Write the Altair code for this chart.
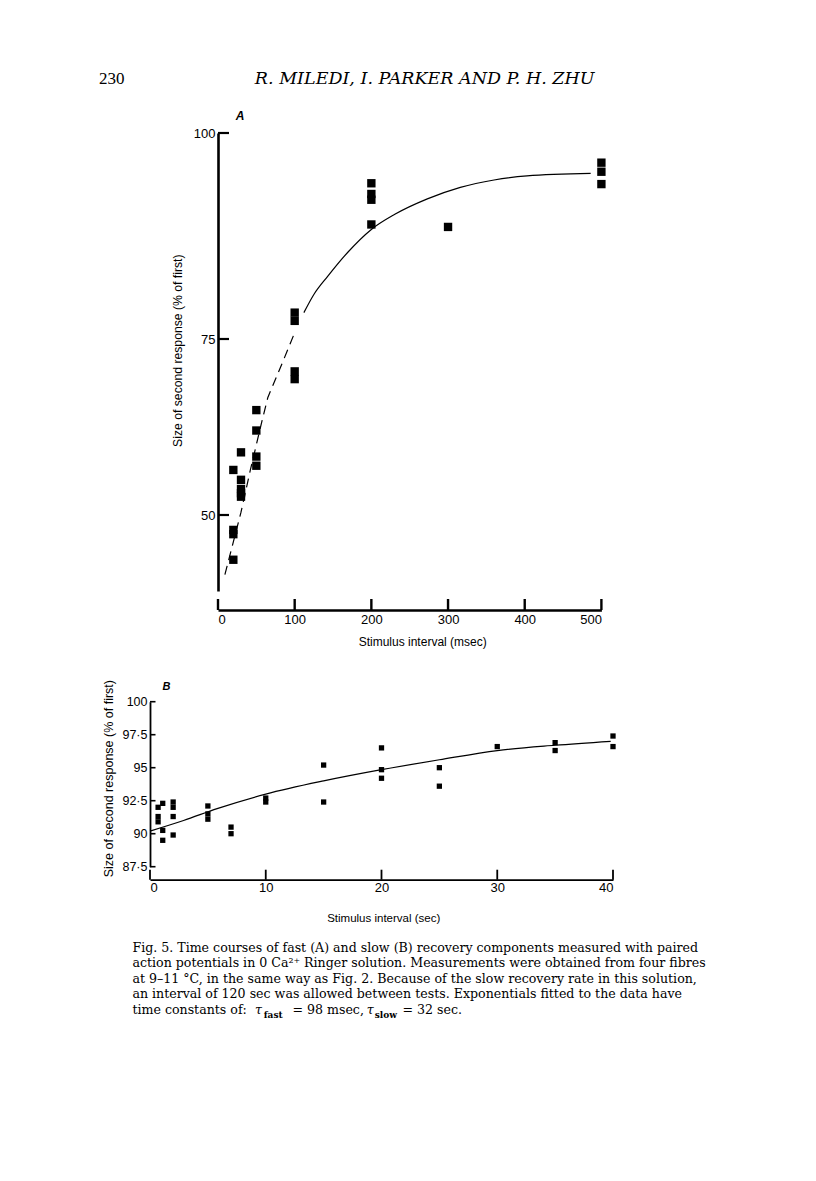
import altair as alt
import pandas as pd

# ---------------- Panel A (fast component) ----------------
a_interval = [20, 20, 20, 20, 30, 30, 30, 30, 30, 50, 50, 50, 50,
              100, 100, 100, 100, 200, 200, 200, 200, 300, 500, 500, 500]
a_size = [56.4, 47.9, 47.3, 43.7, 58.9, 55.0, 53.7, 53.1, 52.6, 64.9, 62.0, 58.3, 57.0,
          78.2, 77.2, 70.4, 69.3, 93.9, 92.6, 91.9, 88.9, 88.6, 96.4, 95.3, 93.8]
a_fit_dash_t = [9, 30, 42, 57, 65, 85, 101]
a_fit_dash_v = [41.6, 50.4, 56.3, 63.2, 66.7, 71.9, 76.0]
a_fit_t = [112, 125, 143, 169, 200, 230, 273, 316, 360, 403, 486]
a_fit_v = [78.2, 80.4, 82.6, 85.5, 88.3, 90.1, 92.0, 93.4, 94.3, 94.8, 95.1]
a_xticks = [0, 100, 200, 300, 400, 500]
a_yticks = [50, 75, 100]

# ---------------- Panel B (slow component) ----------------
b_interval = [0.7, 0.7, 0.7, 1.1, 1.1, 1.1, 2, 2, 2, 2, 5, 5, 5, 7, 7, 10, 10,
              15, 15, 20, 20, 20, 25, 25, 30, 35, 35, 40, 40]
b_size = [92.0, 91.3, 90.9, 92.3, 90.25, 89.5, 92.4, 92.0, 91.3, 89.9, 92.1, 91.5, 91.1,
          90.5, 90.0, 92.7, 92.4, 95.2, 92.4, 96.5, 94.85, 94.2, 95.0, 93.6, 96.6,
          96.9, 96.3, 97.4, 96.6]
b_fit_t = [0, 2.9, 5.8, 10, 15, 20, 25, 30, 35, 39.8]
b_fit_v = [90.2, 91.0, 91.9, 93.0, 94.0, 94.85, 95.6, 96.3, 96.7, 97.0]
b_xticks = [0, 10, 20, 30, 40]
b_yticks = [87.5, 90, 92.5, 95, 97.5, 100]

caption_lines = [
    "Fig. 5. Time courses of fast (A) and slow (B) recovery components measured with paired",
    "action potentials in 0 Ca\u00b2\u207a Ringer solution. Measurements were obtained from four fibres",
    "at 9\u201311 \u00b0C, in the same way as Fig. 2. Because of the slow recovery rate in this solution,",
    "an interval of 120 sec was allowed between tests. Exponentials fitted to the data have",
]

SANS = "Liberation Sans"
SERIF = "DejaVu Serif"
CAP = 12.6
dummy = pd.DataFrame({"d": [0]})


def txt(s, x, y, size, font=SANS, style="normal", weight="normal",
        align="left", baseline="alphabetic", angle=0):
    return alt.Chart(dummy).mark_text(
        text=s, font=font, fontSize=size, fontStyle=style, fontWeight=weight,
        align=align, baseline=baseline, angle=angle, color="black"
    ).encode(x=alt.value(x), y=alt.value(y))


def pin(x, y):
    # 1px white anchor that fixes the panel's layout bounds
    return alt.Chart(dummy).mark_rect(color="white").encode(
        x=alt.value(x), x2=alt.value(x + 1), y=alt.value(y), y2=alt.value(y + 1))


# ---------------- Chart A ----------------
SH = 68            # panel A sits 68 px to the right of panel B
WA, HA = SH + 383.4, 458
xA = alt.Scale(domain=[0, 500], range=[SH, SH + 383.4], nice=False, zero=False)
yA = alt.Scale(domain=[39.3, 50, 75, 100], range=[458, 382, 206, 0], nice=False, zero=False)
axA_x = alt.Axis(values=a_xticks, ticks=False, offset=19, domainWidth=2.6, domainColor="black",
                 labelFont=SANS, labelFontSize=13, labelColor="black", labelPadding=3,
                 grid=False, title=None, format="d")
axA_y = alt.Axis(values=a_yticks, ticks=False, offset=-SH, domainWidth=2.6, domainColor="black",
                 labelFont=SANS, labelFontSize=13, labelColor="black", labelPadding=3,
                 grid=False, title=None)

ptsA = alt.Chart(pd.DataFrame({"t": a_interval, "v": a_size})).mark_square(
    size=70, color="black", opacity=1).encode(
    x=alt.X("t:Q", scale=xA, axis=axA_x), y=alt.Y("v:Q", scale=yA, axis=axA_y))
fitA_d = alt.Chart(pd.DataFrame({"t": a_fit_dash_t, "v": a_fit_dash_v})).mark_line(
    color="black", strokeWidth=1.2, strokeDash=[9, 6]).encode(
    x=alt.X("t:Q", scale=xA, axis=axA_x), y=alt.Y("v:Q", scale=yA, axis=axA_y))
fitA = alt.Chart(pd.DataFrame({"t": a_fit_t, "v": a_fit_v})).mark_line(
    color="black", strokeWidth=1.2, interpolate="monotone").encode(
    x=alt.X("t:Q", scale=xA, axis=axA_x), y=alt.Y("v:Q", scale=yA, axis=axA_y))
xtA = alt.Chart(pd.DataFrame({"t": a_xticks})).mark_rule(color="black", strokeWidth=2.4).encode(
    x=alt.X("t:Q", scale=xA, axis=axA_x), y=alt.value(HA + 19), y2=alt.value(HA + 8))
ytA = alt.Chart(pd.DataFrame({"v": a_yticks})).mark_rule(color="black", strokeWidth=2.2).encode(
    y=alt.Y("v:Q", scale=yA, axis=axA_y), x=alt.value(SH), x2=alt.value(SH + 11))

chartA = alt.layer(
    pin(SH - 209.3, -124.3), pin(SH, 524),
    fitA_d, fitA, ptsA, xtA, ytA,
    txt("A", SH + 17.7, -17.3, 12, style="italic", weight="bold", baseline="middle"),
    txt("Stimulus interval (msec)", SH + 204.7, 509.4, 12, align="center", baseline="middle"),
    txt("Size of second response (% of first)", SH - 40.3, 217.7, 12.2, align="center",
        baseline="middle", angle=270),
    txt("230", SH - 119, -49.3, 17, font="Liberation Serif"),
    txt("R. MILEDI, I. PARKER AND P. H. ZHU", SH + 206.7, -49.3, 17.5,
        font="DejaVu Serif", style="italic", align="center"),
).properties(width=WA, height=HA)

# ---------------- Chart B ----------------
WB, HB = 463, 165
xB = alt.Scale(domain=[0, 40], nice=False, zero=False)
yB = alt.Scale(domain=[87.5, 100], nice=False, zero=False)
axB_x = alt.Axis(values=b_xticks, ticks=False, offset=13, domainWidth=1.8, domainColor="black",
                 labelFont=SANS, labelFontSize=13, labelColor="black", labelPadding=2,
                 grid=False, title=None, format="d")
axB_y = alt.Axis(values=b_yticks, ticks=False, domainWidth=1.8, domainColor="black",
                 labelFont=SANS, labelFontSize=12.5, labelColor="black", labelPadding=3,
                 grid=False, title=None,
                 labelExpr="replace(toString(datum.value), '.', '\u00b7')")

ptsB = alt.Chart(pd.DataFrame({"t": b_interval, "v": b_size})).mark_square(
    size=28, color="black", opacity=1).encode(
    x=alt.X("t:Q", scale=xB, axis=axB_x), y=alt.Y("v:Q", scale=yB, axis=axB_y))
fitB = alt.Chart(pd.DataFrame({"t": b_fit_t, "v": b_fit_v})).mark_line(
    color="black", strokeWidth=1.2, interpolate="monotone").encode(
    x=alt.X("t:Q", scale=xB, axis=axB_x), y=alt.Y("v:Q", scale=yB, axis=axB_y))
xtB = alt.Chart(pd.DataFrame({"t": b_xticks})).mark_rule(color="black", strokeWidth=1.8).encode(
    x=alt.X("t:Q", scale=xB, axis=axB_x), y=alt.value(HB + 13), y2=alt.value(HB + 3))
ytB = alt.Chart(pd.DataFrame({"v": b_yticks})).mark_rule(color="black", strokeWidth=1.6).encode(
    y=alt.Y("v:Q", scale=yB, axis=axB_y), x=alt.value(0), x2=alt.value(5.5))

cap_layers = []
for i, line in enumerate(caption_lines):
    cap_layers.append(txt(line, -17.6, 250 + 15.5 * i, CAP, font=SERIF))
base5 = 250 + 15.5 * 4
cap_layers += [
    txt("time constants of:", -17.6, base5, CAP, font=SERIF),
    txt("\u03c4", 105, base5, CAP, font=SERIF, style="italic"),
    txt("fast", 113.7, base5 + 4, 9, font=SERIF, weight="bold"),
    txt("= 98 msec,", 142.4, base5, CAP, font=SERIF),
    txt("\u03c4", 216.7, base5, CAP, font=SERIF, style="italic"),
    txt("slow", 224.7, base5 + 4, 9, font=SERIF, weight="bold"),
    txt("= 32 sec.", 252.4, base5, CAP, font=SERIF),
]

chartB = alt.layer(
    pin(-141.3, -40),
    fitB, ptsB, xtB, ytB,
    txt("B", 12.4, -14.3, 11, style="italic", weight="bold", baseline="middle"),
    txt("Stimulus interval (sec)", 233.7, 217.3, 11.5, align="center", baseline="middle"),
    txt("Size of second response (% of first)", -41, 77, 12.5, align="center",
        baseline="middle", angle=270),
    *cap_layers,
).properties(width=WB, height=HB)

chart = alt.concat(chartA, chartB, columns=1, spacing=3.7).properties(
    padding=0
).configure(background="white", view=alt.ViewConfig(stroke=None))

chart.save("out.html", embed_options={"renderer": "svg", "actions": False})
